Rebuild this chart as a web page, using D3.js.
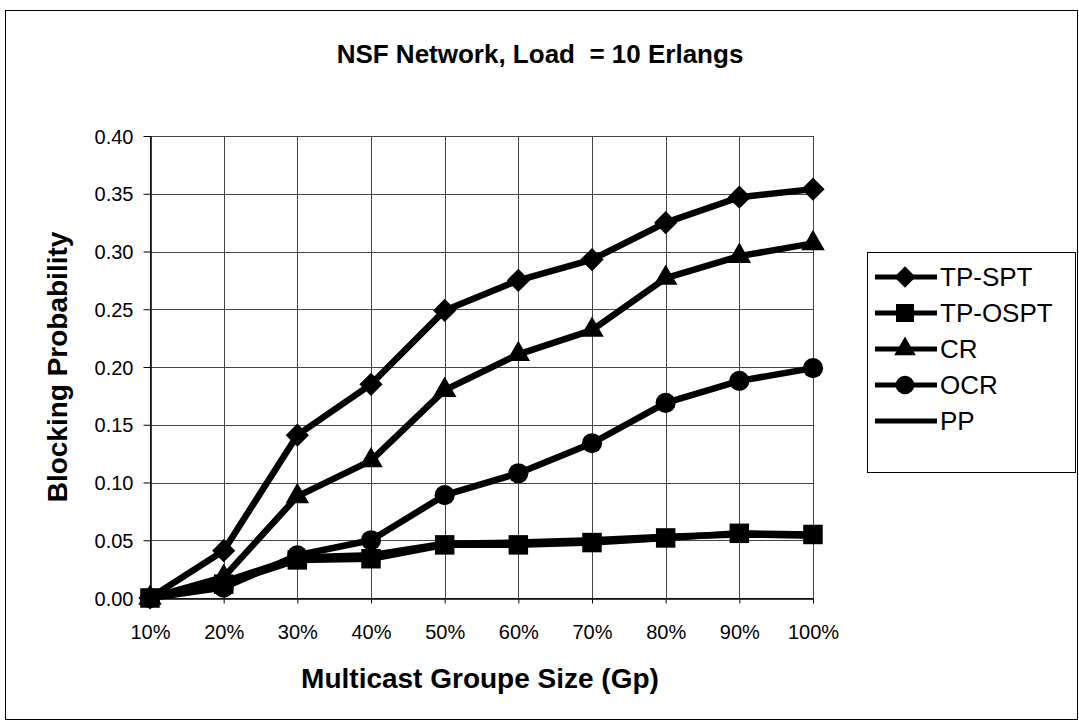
<!DOCTYPE html>
<html>
<head>
<meta charset="utf-8">
<script src="https://cdn.jsdelivr.net/npm/d3@7"></script>
<style>
  body { margin: 0; background: #fff; }
  svg { font-family: Arial, "Liberation Sans", sans-serif; }
</style>
</head>
<body>
<svg id="chart" width="1079" height="723"></svg>
<script>
// categories and series
var groupSizes = ["10%", "20%", "30%", "40%", "50%", "60%", "70%", "80%", "90%", "100%"];
var tpSpt  = [0, 0.041, 0.141, 0.185, 0.249, 0.275, 0.293, 0.325, 0.347, 0.354];
var tpOspt = [0, 0.012, 0.033, 0.034, 0.046, 0.046, 0.048, 0.052, 0.056, 0.055];
var cr     = [0, 0.018, 0.088, 0.119, 0.180, 0.211, 0.232, 0.277, 0.296, 0.307];
var ocr    = [0, 0.009, 0.037, 0.050, 0.089, 0.108, 0.134, 0.169, 0.188, 0.199];
var pp     = [0, 0.014, 0.035, 0.037, 0.047, 0.048, 0.050, 0.053, 0.055, 0.054];
var yTicks = [0, 0.05, 0.10, 0.15, 0.20, 0.25, 0.30, 0.35, 0.40];

// diamond = square turned by 45 degrees
var series = [
    {name: "TP-SPT", values: tpSpt, symbol: d3.symbolSquare, size: 270, rot: 45},
    {name: "TP-OSPT", values: tpOspt, symbol: d3.symbolSquare, size: 380, rot: 0},
    {name: "CR", values: cr, symbol: d3.symbolTriangle, size: 240, rot: 0},
    {name: "OCR", values: ocr, symbol: d3.symbolCircle, size: 320, rot: 0},
    {name: "PP", values: pp, symbol: null, size: 0, rot: 0}
];

var svg = d3.select("#chart");
var plot = {left: 150, right: 813, top: 136, bottom: 598};

// outer frame
svg.append("rect")
    .attr("x", 5.5).attr("y", 10.5)
    .attr("width", 1072).attr("height", 709)
    .style("fill", "none")
    .style("stroke", "#000")
    .style("stroke-width", 1);

var x = d3.scalePoint().domain(groupSizes).range([plot.left, plot.right]);
var y = d3.scaleLinear().domain([0, 0.40]).range([plot.bottom, plot.top]);

// grid
var grid = svg.append("g");
grid.selectAll(".hgrid").data(yTicks).enter().append("line")
    .attr("x1", plot.left).attr("x2", plot.right)
    .attr("y1", function(d){ return Math.round(y(d)) + 0.5; })
    .attr("y2", function(d){ return Math.round(y(d)) + 0.5; })
    .style("stroke", "#444").style("stroke-width", 1);
grid.selectAll(".vgrid").data(groupSizes).enter().append("line")
    .attr("x1", function(d){ return Math.round(x(d)) + 0.5; })
    .attr("x2", function(d){ return Math.round(x(d)) + 0.5; })
    .attr("y1", plot.top).attr("y2", plot.bottom)
    .style("stroke", "#444").style("stroke-width", 1);

// axes
var yAxis = d3.axisLeft(y).tickValues(yTicks).tickFormat(d3.format(".2f")).tickSize(7).tickSizeOuter(0);
var gy = svg.append("g").attr("transform", "translate(" + (plot.left + 0.5) + ",0)").call(yAxis);
gy.selectAll("text").style("font-size", "20px").attr("x", -17).attr("dy", "0.35em");

var xAxis = d3.axisBottom(x).tickSize(5).tickSizeOuter(0);
var gx = svg.append("g").attr("transform", "translate(0," + (plot.bottom + 0.5) + ")").call(xAxis);
gx.selectAll("text").style("font-size", "20px").attr("y", 33).attr("dy", "0.35em");
svg.selectAll(".domain").style("stroke", "#000").style("stroke-width", 1.5);
svg.selectAll(".tick line").style("stroke", "#000");
svg.selectAll(".tick text").style("fill", "#000");

// lines and markers
var line = d3.line()
    .x(function(d, i){ return x(groupSizes[i]); })
    .y(function(d){ return y(d); });

var drawOrder = [4, 1, 3, 2, 0];
drawOrder.forEach(function(k){
    var s = series[k];
    svg.append("path")
        .attr("d", line(s.values))
        .style("fill", "none")
        .style("stroke", "#000")
        .style("stroke-width", 6.5)
        .style("stroke-linejoin", "round");
    if(s.symbol){
        svg.selectAll(".m" + k).data(s.values).enter().append("path")
            .attr("transform", function(d, i){
                return "translate(" + x(groupSizes[i]) + "," + y(d) + ") rotate(" + s.rot + ")";
            })
            .attr("d", d3.symbol().type(s.symbol).size(s.size))
            .style("fill", "#000");
    }
});

// titles
svg.append("text")
    .attr("x", 540).attr("y", 63)
    .attr("text-anchor", "middle")
    .style("font-size", "26px").style("font-weight", "bold")
    .style("white-space", "pre")
    .text("NSF Network, Load  = 10 Erlangs");

svg.append("text")
    .attr("x", 480).attr("y", 688)
    .attr("text-anchor", "middle")
    .style("font-size", "28px").style("font-weight", "bold")
    .text("Multicast Groupe Size (Gp)");

svg.append("text")
    .attr("transform", "translate(67,367) rotate(-90)")
    .attr("text-anchor", "middle")
    .style("font-size", "28px").style("font-weight", "bold")
    .text("Blocking Probability");

// legend
var legend = svg.append("g").attr("transform", "translate(867,252)");
legend.append("rect")
    .attr("x", 0.5).attr("y", 0.5)
    .attr("width", 208).attr("height", 220)
    .style("fill", "#fff").style("stroke", "#000").style("stroke-width", 1);

var item = legend.selectAll(".item").data(series).enter().append("g")
    .attr("transform", function(d, i){ return "translate(0," + (25 + i * 36) + ")"; });
item.append("line")
    .attr("x1", 8).attr("x2", 70)
    .style("stroke", "#000").style("stroke-width", 5);
item.filter(function(d){ return d.symbol; }).append("path")
    .attr("transform", function(d){ return "translate(38,0) rotate(" + d.rot + ")"; })
    .attr("d", function(d){ return d3.symbol().type(d.symbol).size(d.size * 0.85)(); })
    .style("fill", "#000");
item.append("text")
    .attr("x", 73).attr("dy", "0.36em")
    .style("font-size", "26px")
    .text(function(d){ return d.name; });
</script>
</body>
</html>
